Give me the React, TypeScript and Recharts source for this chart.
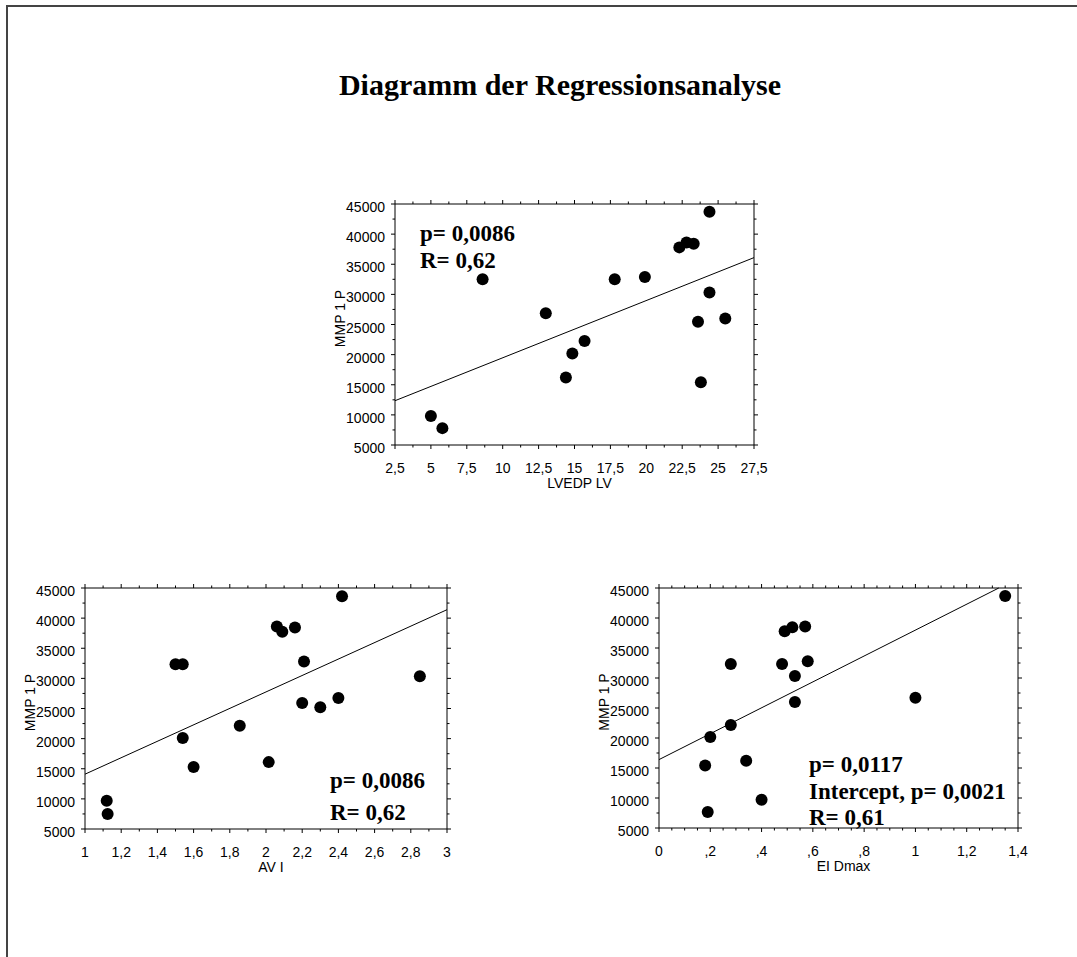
import React from 'react';
import { ScatterChart, Scatter, XAxis, YAxis, ReferenceLine } from 'recharts';

const FONT_SANS = '"Liberation Sans", Arial, sans-serif';
const FONT_SERIF = '"Liberation Serif", "Times New Roman", serif';

const chartTitle = 'Diagramm der Regressionsanalyse';
const yTitle = 'MMP 1 P';

// shared y axis
const yMajor = [5000, 10000, 15000, 20000, 25000, 30000, 35000, 40000, 45000];
const yMinor = [7500, 12500, 17500, 22500, 27500, 32500, 37500, 42500];
const yLabels = ['5000', '10000', '15000', '20000', '25000', '30000', '35000', '40000', '45000'];

// panel 1: LVEDP LV
const lvedpX = [5.0, 5.8, 8.6, 13.0, 14.4, 14.85, 15.7, 17.8, 19.9, 22.3, 22.8, 23.3, 24.4, 24.4, 23.6, 23.8, 25.5];
const lvedpY = [9800, 7800, 32500, 26850, 16200, 20200, 22250, 32500, 32900, 37800, 38600, 38400, 43700, 30300, 25450, 15400, 26000];
const lvedpFitX = [2.5, 27.5];
const lvedpFitY = [12350, 36100];
const lvedpMajor = [2.5, 5, 7.5, 10, 12.5, 15, 17.5, 20, 22.5, 25, 27.5];
const lvedpMinor = [3.75, 6.25, 8.75, 11.25, 13.75, 16.25, 18.75, 21.25, 23.75, 26.25];
const lvedpLabels = ['2,5', '5', '7,5', '10', '12,5', '15', '17,5', '20', '22,5', '25', '27,5'];
const lvedpStats = ['p= 0,0086', 'R= 0,62'];

// panel 2: AV I
const aviX = [1.12, 1.125, 1.5, 1.54, 1.54, 1.6, 1.855, 2.015, 2.06, 2.09, 2.16, 2.21, 2.2, 2.3, 2.4, 2.42, 2.85];
const aviY = [9700, 7500, 32350, 32350, 20100, 15300, 22150, 16100, 38600, 37750, 38450, 32800, 25900, 25200, 26750, 43650, 30350];
const aviFitX = [1, 3];
const aviFitY = [14100, 41400];
const aviMajor = [1, 1.2, 1.4, 1.6, 1.8, 2, 2.2, 2.4, 2.6, 2.8, 3];
const aviMinor = [1.1, 1.3, 1.5, 1.7, 1.9, 2.1, 2.3, 2.5, 2.7, 2.9];
const aviLabels = ['1', '1,2', '1,4', '1,6', '1,8', '2', '2,2', '2,4', '2,6', '2,8', '3'];
const aviStats = ['p= 0,0086', 'R= 0,62'];

// panel 3: EI Dmax
const eidX = [0.18, 0.19, 0.2, 0.28, 0.28, 0.34, 0.4, 0.48, 0.49, 0.52, 0.53, 0.53, 0.57, 0.58, 1.0, 1.35];
const eidY = [15400, 7650, 20150, 32350, 22150, 16200, 9700, 32350, 37800, 38450, 30350, 26000, 38600, 32800, 26700, 43650];
const eidFitX = [0, 1.325];
const eidFitY = [16400, 45000];
const eidMajor = [0, 0.2, 0.4, 0.6, 0.8, 1, 1.2, 1.4];
const eidMinor = [0.05, 0.1, 0.15, 0.25, 0.3, 0.35, 0.45, 0.5, 0.55, 0.65, 0.7, 0.75, 0.85, 0.9, 0.95, 1.05, 1.1, 1.15, 1.25, 1.3, 1.35];
const eidLabels = ['0', ',2', ',4', ',6', ',8', '1', '1,2', '1,4'];
const eidStats = ['p= 0,0117', 'Intercept, p= 0,0021', 'R= 0,61'];

const YW = 80;
const RW = 30;
const TH = 12;
const BH = 56;

type Side = 'left' | 'right' | 'top' | 'bottom';

function makeTick(side: Side, majors: number[], labels: string[] | null) {
  return (props: any) => {
    const { x, y, payload } = props;
    const v = payload.value;
    const mi = majors.findIndex((m) => Math.abs(m - v) < 1e-6);
    const len = mi >= 0 ? 4 : 2.5;
    let line: any = null;
    if (side === 'left') line = <line x1={x - len} y1={y} x2={x} y2={y} stroke="#000" strokeWidth={1} />;
    if (side === 'right') line = <line x1={x} y1={y} x2={x + len} y2={y} stroke="#000" strokeWidth={1} />;
    if (side === 'top') line = <line x1={x} y1={y - len} x2={x} y2={y} stroke="#000" strokeWidth={1} />;
    if (side === 'bottom') line = <line x1={x} y1={y} x2={x} y2={y + len} stroke="#000" strokeWidth={1} />;
    let label: any = null;
    if (labels && mi >= 0) {
      if (side === 'left') {
        label = (
          <text x={x - 10} y={y + 8} textAnchor="end" fontSize={14} fontFamily={FONT_SANS} fill="#000">
            {labels[mi]}
          </text>
        );
      } else if (side === 'bottom') {
        label = (
          <text x={x} y={y + 28} textAnchor="middle" fontSize={14} fontFamily={FONT_SANS} fill="#000">
            {labels[mi]}
          </text>
        );
      }
    }
    return (
      <g>
        {line}
        {label}
      </g>
    );
  };
}

const dot = (props: any) => <circle cx={props.cx} cy={props.cy} r={6} fill="#000" />;

interface PanelProps {
  left: number;
  top: number;
  plotW: number;
  plotH: number;
  xs: number[];
  ys: number[];
  fitX: number[];
  fitY: number[];
  xMajor: number[];
  xMinor: number[];
  xLabels: string[];
  xTitle: string;
}

function Panel(p: PanelProps) {
  const data = p.xs.map((x, i) => ({ x, y: p.ys[i] }));
  const xTicks = [...p.xMajor, ...p.xMinor].sort((a, b) => a - b);
  const yTicks = [...yMajor, ...yMinor].sort((a, b) => a - b);
  const xDomain: [number, number] = [p.xMajor[0], p.xMajor[p.xMajor.length - 1]];
  const yDomain: [number, number] = [yMajor[0], yMajor[yMajor.length - 1]];
  const W = YW + p.plotW + RW;
  const H = TH + p.plotH + BH;
  const yTitleX = YW - 50;
  const yTitleY = TH + p.plotH / 2 - 6;
  const xTitleX = YW + p.plotW / 2 + 5;
  const xTitleY = TH + p.plotH + 43;
  const common = { tickSize: 0, tickMargin: 0, tickLine: false, interval: 0 as const, allowDataOverflow: true };
  return (
    <div style={{ position: 'absolute', left: p.left - YW, top: p.top - TH, width: W, height: H }}>
      <ScatterChart width={W} height={H} margin={{ top: 0, right: 0, bottom: 0, left: 0 }}>
        <XAxis
          xAxisId="b"
          type="number"
          dataKey="x"
          orientation="bottom"
          height={BH}
          domain={xDomain}
          ticks={xTicks}
          axisLine={{ stroke: '#000', strokeWidth: 1 }}
          tick={makeTick('bottom', p.xMajor, p.xLabels)}
          label={() => (
            <text x={xTitleX} y={xTitleY} textAnchor="middle" fontSize={14} fontFamily={FONT_SANS} fill="#000">
              {p.xTitle}
            </text>
          )}
          {...common}
        />
        <XAxis
          xAxisId="t"
          type="number"
          dataKey="x"
          orientation="top"
          height={TH}
          domain={xDomain}
          ticks={xTicks}
          axisLine={{ stroke: '#000', strokeWidth: 1 }}
          tick={makeTick('top', p.xMajor, null)}
          {...common}
        />
        <YAxis
          yAxisId="l"
          type="number"
          dataKey="y"
          orientation="left"
          width={YW}
          domain={yDomain}
          ticks={yTicks}
          axisLine={{ stroke: '#000', strokeWidth: 1 }}
          tick={makeTick('left', yMajor, yLabels)}
          label={() => (
            <text
              x={yTitleX}
              y={yTitleY}
              transform={`rotate(-90, ${yTitleX}, ${yTitleY})`}
              textAnchor="middle"
              fontSize={14}
              fontFamily={FONT_SANS}
              fill="#000"
            >
              {yTitle}
            </text>
          )}
          {...common}
        />
        <YAxis
          yAxisId="r"
          type="number"
          dataKey="y"
          orientation="right"
          width={RW}
          domain={yDomain}
          ticks={yTicks}
          axisLine={{ stroke: '#000', strokeWidth: 1 }}
          tick={makeTick('right', yMajor, null)}
          {...common}
        />
        <ReferenceLine
          xAxisId="b"
          yAxisId="l"
          segment={[
            { x: p.fitX[0], y: p.fitY[0] },
            { x: p.fitX[1], y: p.fitY[1] },
          ]}
          stroke="#000"
          strokeWidth={1}
          ifOverflow="visible"
        />
        <Scatter xAxisId="b" yAxisId="l" data={data} fill="#000" shape={dot} isAnimationActive={false} />
      </ScatterChart>
    </div>
  );
}

function StatText({ x, y, lines, gap }: { x: number; y: number; lines: string[]; gap: number }) {
  return (
    <g>
      {lines.map((t, i) => (
        <text key={i} x={x} y={y + i * gap} fontSize={23} fontWeight="bold" fontFamily={FONT_SERIF} fill="#000">
          {t}
        </text>
      ))}
    </g>
  );
}

export default function App() {
  return (
    <div
      style={{
        position: 'absolute',
        left: 0,
        top: 0,
        width: 1077,
        height: 957,
        background: '#fff',
        overflow: 'hidden',
      }}
    >
      <div
        style={{
          position: 'absolute',
          left: 6,
          top: 5,
          width: 1080,
          height: 960,
          borderTop: '2px solid #444',
          borderLeft: '2px solid #444',
          boxSizing: 'border-box',
        }}
      />
      <Panel
        left={395}
        top={204}
        plotW={359}
        plotH={241}
        xs={lvedpX}
        ys={lvedpY}
        fitX={lvedpFitX}
        fitY={lvedpFitY}
        xMajor={lvedpMajor}
        xMinor={lvedpMinor}
        xLabels={lvedpLabels}
        xTitle="LVEDP LV"
      />
      <Panel
        left={85}
        top={588}
        plotW={362}
        plotH={241}
        xs={aviX}
        ys={aviY}
        fitX={aviFitX}
        fitY={aviFitY}
        xMajor={aviMajor}
        xMinor={aviMinor}
        xLabels={aviLabels}
        xTitle="AV I"
      />
      <Panel
        left={659}
        top={588}
        plotW={359}
        plotH={240}
        xs={eidX}
        ys={eidY}
        fitX={eidFitX}
        fitY={eidFitY}
        xMajor={eidMajor}
        xMinor={eidMinor}
        xLabels={eidLabels}
        xTitle="EI Dmax"
      />
      <svg
        width={1077}
        height={957}
        style={{ position: 'absolute', left: 0, top: 0, pointerEvents: 'none', zIndex: 2 }}
      >
        <text x={560} y={95} textAnchor="middle" fontSize={30} fontWeight="bold" fontFamily={FONT_SERIF} fill="#000">
          {chartTitle}
        </text>
        <StatText x={420} y={241} lines={lvedpStats} gap={27} />
        <StatText x={330} y={788} lines={aviStats} gap={32} />
        <StatText x={809} y={772} lines={eidStats} gap={26.5} />
      </svg>
    </div>
  );
}
